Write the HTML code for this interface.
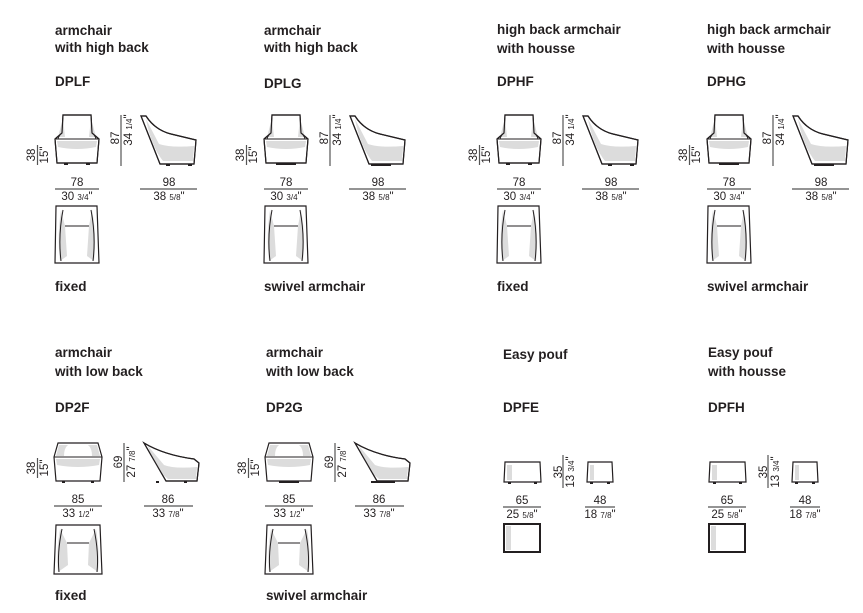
<!DOCTYPE html>
<html><head><meta charset="utf-8"><style>
html,body{margin:0;padding:0;background:#fff}
svg{display:block}
text{font-family:"Liberation Sans",Arial,sans-serif;fill:#231f20}
.t{font-size:13.5px;font-weight:bold}
.d{font-size:11.5px}
.f{font-size:8px}
.s{stroke:#231f20;stroke-width:1.2;fill:#fff}
.g{fill:#dcdcdc;stroke:none}
.l{stroke:#231f20;stroke-width:1;fill:none}
.dl{stroke:#555;stroke-width:1.2}
</style></head><body>
<svg width="863" height="613" viewBox="0 0 863 613" xmlns="http://www.w3.org/2000/svg">
<defs>
<g id="fh">
<path class="s" d="M8,0 H36 L37,18 L44,24 L42,48 H2 L0,24 L7,18 Z"/>
<path class="g" d="M8,3 L3,22 H10 Z M36,3 L41,22 H34 Z M2,26 H42 L41,32 Q22,36 3,32 Z"/>
<path class="l" d="M7,18 Q4,20 3,24 M37,18 Q40,20 41,24 M1,24 H43"/>
<path class="s" d="M8,0 H36 L37,18 L44,24 L42,48 H2 L0,24 L7,18 Z" style="fill:none"/>
</g>
<g id="feet"><rect x="9" y="48" width="4" height="2" fill="#231f20"/><rect x="31" y="48" width="4" height="2" fill="#231f20"/></g>
<g id="base"><rect x="12" y="48" width="20" height="2" fill="#231f20"/></g>
<g id="sh">
<path class="s" d="M0,0 H5 Q14,14 30,18 L55,24 L53,48 H19 Z"/>
<path class="g" d="M5,3 Q10,30 22,45 H52 L53,30 Q30,32 18,28 Z"/>
<path class="s" d="M0,0 H5 Q14,14 30,18 L55,24 L53,48 H19 Z" style="fill:none"/>
</g>
<g id="th">
<path class="s" d="M1,0 H42 L44,57 H0 Z"/>
<path class="g" d="M6,4 Q2,30 5,55 L12,50 L10,20 Z M37,4 Q42,30 39,55 L32,50 L34,20 Z"/>
<path class="l" d="M8,4 Q3,30 6,55 M36,4 Q41,30 38,55 M10,20 H34"/>
</g>
<g id="fl">
<path class="s" d="M4,0 H44 L48,14 L46,38 H2 L0,14 Z"/>
<path class="g" d="M5,2 L2,13 H10 Q10,5 14,2 Z M43,2 L46,13 H38 Q38,5 34,2 Z M2,16 H46 L45,22 Q24,26 3,22 Z"/>
<path class="l" d="M0,14 H48"/>
</g>
<g id="sl">
<path class="s" d="M0,0 Q20,12 50,16 L55,20 L53,38 H22 Z"/>
<path class="g" d="M4,3 Q10,25 24,36 H52 L53,24 Q30,26 20,22 Z"/>
<path class="s" d="M0,0 Q20,12 50,16 L55,20 L53,38 H22 Z" style="fill:none"/>
</g>
<g id="tl">
<path class="s" d="M2,0 H46 L48,49 H0 Z"/>
<path class="g" d="M6,4 Q2,28 4,47 L14,40 L13,18 Z M42,4 Q46,28 44,47 L34,40 L35,18 Z"/>
<path class="l" d="M8,4 Q3,28 5,47 M40,4 Q45,28 43,47 M13,18 H35"/>
</g>
<g id="pf"><path class="s" d="M1,0 H36 L37,20 H0 Z"/><path class="g" d="M3,3 H8 V18 H3 Z"/><rect x="4" y="20" width="3" height="2" fill="#231f20"/><rect x="30" y="20" width="3" height="2" fill="#231f20"/></g>
<g id="ps"><path class="s" d="M1,0 H25 L26,20 H0 Z"/><path class="g" d="M3,3 H7 V18 H3 Z"/><rect x="3" y="20" width="3" height="2" fill="#231f20"/><rect x="20" y="20" width="3" height="2" fill="#231f20"/></g>
<g id="pt"><rect x="1" y="1" width="36" height="28" fill="#fff" stroke="#231f20" stroke-width="2"/><rect x="3" y="3" width="5" height="24" fill="#dcdcdc"/></g>
</defs>

<g>
<text class="t" x="55" y="35">armchair</text>
<text class="t" x="55" y="52">with high back</text>
<text class="t" x="55" y="86">DPLF</text>
<use href="#fh" x="55" y="115"/><use href="#feet" x="55" y="115"/>
<line class="dl" x1="37.5" y1="145" x2="37.5" y2="165"/>
<text class="d" transform="translate(35,155) rotate(-90)" text-anchor="middle">38</text>
<text class="d" transform="translate(48,155) rotate(-90)" text-anchor="middle">15"</text>
<line class="dl" x1="121" y1="115" x2="121" y2="166"/>
<text class="d" transform="translate(119,138) rotate(-90)" text-anchor="middle">87</text>
<text class="d" transform="translate(132,130) rotate(-90)" text-anchor="middle">34 <tspan class="f">1/4</tspan>"</text>
<use href="#sh" x="141" y="116"/><use href="#feet" x="157" y="116"/>
<text class="d" x="77" y="186" text-anchor="middle">78</text>
<line class="dl" x1="55" y1="189" x2="99" y2="189"/>
<text class="d" x="77" y="200" text-anchor="middle">30 <tspan class="f">3/4</tspan>"</text>
<text class="d" x="169" y="186" text-anchor="middle">98</text>
<line class="dl" x1="140" y1="189" x2="197" y2="189"/>
<text class="d" x="169" y="200" text-anchor="middle">38 <tspan class="f">5/8</tspan>"</text>
<use href="#th" x="55" y="206"/>
<text class="t" x="55" y="291">fixed</text>
</g>

<g transform="translate(209,0)">
<text class="t" x="55" y="35">armchair</text>
<text class="t" x="55" y="52">with high back</text>
<text class="t" x="55" y="88">DPLG</text>
<use href="#fh" x="55" y="115"/><use href="#base" x="55" y="115"/>
<line class="dl" x1="37.5" y1="145" x2="37.5" y2="165"/>
<text class="d" transform="translate(35,155) rotate(-90)" text-anchor="middle">38</text>
<text class="d" transform="translate(48,155) rotate(-90)" text-anchor="middle">15"</text>
<line class="dl" x1="121" y1="115" x2="121" y2="166"/>
<text class="d" transform="translate(119,138) rotate(-90)" text-anchor="middle">87</text>
<text class="d" transform="translate(132,130) rotate(-90)" text-anchor="middle">34 <tspan class="f">1/4</tspan>"</text>
<use href="#sh" x="141" y="116"/><use href="#base" x="150" y="116"/>
<text class="d" x="77" y="186" text-anchor="middle">78</text>
<line class="dl" x1="55" y1="189" x2="99" y2="189"/>
<text class="d" x="77" y="200" text-anchor="middle">30 <tspan class="f">3/4</tspan>"</text>
<text class="d" x="169" y="186" text-anchor="middle">98</text>
<line class="dl" x1="140" y1="189" x2="197" y2="189"/>
<text class="d" x="169" y="200" text-anchor="middle">38 <tspan class="f">5/8</tspan>"</text>
<use href="#th" x="55" y="206"/>
<text class="t" x="55" y="291">swivel armchair</text>
</g>

<g transform="translate(442,0)">
<text class="t" x="55" y="34">high back armchair</text>
<text class="t" x="55" y="53">with housse</text>
<text class="t" x="55" y="86">DPHF</text>
<use href="#fh" x="55" y="115"/><use href="#feet" x="55" y="115"/>
<line class="dl" x1="37.5" y1="145" x2="37.5" y2="165"/>
<text class="d" transform="translate(35,155) rotate(-90)" text-anchor="middle">38</text>
<text class="d" transform="translate(48,155) rotate(-90)" text-anchor="middle">15"</text>
<line class="dl" x1="121" y1="115" x2="121" y2="166"/>
<text class="d" transform="translate(119,138) rotate(-90)" text-anchor="middle">87</text>
<text class="d" transform="translate(132,130) rotate(-90)" text-anchor="middle">34 <tspan class="f">1/4</tspan>"</text>
<use href="#sh" x="141" y="116"/><use href="#feet" x="157" y="116"/>
<text class="d" x="77" y="186" text-anchor="middle">78</text>
<line class="dl" x1="55" y1="189" x2="99" y2="189"/>
<text class="d" x="77" y="200" text-anchor="middle">30 <tspan class="f">3/4</tspan>"</text>
<text class="d" x="169" y="186" text-anchor="middle">98</text>
<line class="dl" x1="140" y1="189" x2="197" y2="189"/>
<text class="d" x="169" y="200" text-anchor="middle">38 <tspan class="f">5/8</tspan>"</text>
<use href="#th" x="55" y="206"/>
<text class="t" x="55" y="291">fixed</text>
</g>

<g transform="translate(652,0)">
<text class="t" x="55" y="34">high back armchair</text>
<text class="t" x="55" y="53">with housse</text>
<text class="t" x="55" y="86">DPHG</text>
<use href="#fh" x="55" y="115"/><use href="#base" x="55" y="115"/>
<line class="dl" x1="37.5" y1="145" x2="37.5" y2="165"/>
<text class="d" transform="translate(35,155) rotate(-90)" text-anchor="middle">38</text>
<text class="d" transform="translate(48,155) rotate(-90)" text-anchor="middle">15"</text>
<line class="dl" x1="121" y1="115" x2="121" y2="166"/>
<text class="d" transform="translate(119,138) rotate(-90)" text-anchor="middle">87</text>
<text class="d" transform="translate(132,130) rotate(-90)" text-anchor="middle">34 <tspan class="f">1/4</tspan>"</text>
<use href="#sh" x="141" y="116"/><use href="#base" x="150" y="116"/>
<text class="d" x="77" y="186" text-anchor="middle">78</text>
<line class="dl" x1="55" y1="189" x2="99" y2="189"/>
<text class="d" x="77" y="200" text-anchor="middle">30 <tspan class="f">3/4</tspan>"</text>
<text class="d" x="169" y="186" text-anchor="middle">98</text>
<line class="dl" x1="140" y1="189" x2="197" y2="189"/>
<text class="d" x="169" y="200" text-anchor="middle">38 <tspan class="f">5/8</tspan>"</text>
<use href="#th" x="55" y="206"/>
<text class="t" x="55" y="291">swivel armchair</text>
</g>

<g>
<text class="t" x="55" y="357">armchair</text>
<text class="t" x="55" y="376">with low back</text>
<text class="t" x="55" y="412">DP2F</text>
<use href="#fl" x="54" y="443"/>
<rect x="62" y="481" width="3" height="2" fill="#231f20"/><rect x="91" y="481" width="3" height="2" fill="#231f20"/>
<line class="dl" x1="37.5" y1="458" x2="37.5" y2="478"/>
<text class="d" transform="translate(35,468) rotate(-90)" text-anchor="middle">38</text>
<text class="d" transform="translate(48,468) rotate(-90)" text-anchor="middle">15"</text>
<line class="dl" x1="124" y1="443" x2="124" y2="482"/>
<text class="d" transform="translate(122,462) rotate(-90)" text-anchor="middle">69</text>
<text class="d" transform="translate(135,462) rotate(-90)" text-anchor="middle">27 <tspan class="f">7/8</tspan>"</text>
<use href="#sl" x="144" y="443"/>
<rect x="156" y="481" width="3" height="2" fill="#231f20"/><rect x="184" y="481" width="3" height="2" fill="#231f20"/>
<text class="d" x="78" y="503" text-anchor="middle">85</text>
<line class="dl" x1="54" y1="506" x2="102" y2="506"/>
<text class="d" x="78" y="517" text-anchor="middle">33 <tspan class="f">1/2</tspan>"</text>
<text class="d" x="168" y="503" text-anchor="middle">86</text>
<line class="dl" x1="144" y1="506" x2="193" y2="506"/>
<text class="d" x="168" y="517" text-anchor="middle">33 <tspan class="f">7/8</tspan>"</text>
<use href="#tl" x="54" y="525"/>
<text class="t" x="55" y="600">fixed</text>
</g>

<g transform="translate(211,0)">
<text class="t" x="55" y="357">armchair</text>
<text class="t" x="55" y="376">with low back</text>
<text class="t" x="55" y="412">DP2G</text>
<use href="#fl" x="54" y="443"/>
<rect x="68" y="481" width="20" height="2" fill="#231f20"/>
<line class="dl" x1="37.5" y1="458" x2="37.5" y2="478"/>
<text class="d" transform="translate(35,468) rotate(-90)" text-anchor="middle">38</text>
<text class="d" transform="translate(48,468) rotate(-90)" text-anchor="middle">15"</text>
<line class="dl" x1="124" y1="443" x2="124" y2="482"/>
<text class="d" transform="translate(122,462) rotate(-90)" text-anchor="middle">69</text>
<text class="d" transform="translate(135,462) rotate(-90)" text-anchor="middle">27 <tspan class="f">7/8</tspan>"</text>
<use href="#sl" x="144" y="443"/>
<rect x="160" y="481" width="24" height="2" fill="#231f20"/>
<text class="d" x="78" y="503" text-anchor="middle">85</text>
<line class="dl" x1="54" y1="506" x2="102" y2="506"/>
<text class="d" x="78" y="517" text-anchor="middle">33 <tspan class="f">1/2</tspan>"</text>
<text class="d" x="168" y="503" text-anchor="middle">86</text>
<line class="dl" x1="144" y1="506" x2="193" y2="506"/>
<text class="d" x="168" y="517" text-anchor="middle">33 <tspan class="f">7/8</tspan>"</text>
<use href="#tl" x="54" y="525"/>
<text class="t" x="55" y="600">swivel armchair</text>
</g>

<g>
<text class="t" x="503" y="359">Easy pouf</text>
<text class="t" x="503" y="412">DPFE</text>
<use href="#pf" x="504" y="462"/>
<line class="dl" x1="563" y1="455" x2="563" y2="488"/>
<text class="d" transform="translate(562,472) rotate(-90)" text-anchor="middle">35</text>
<text class="d" transform="translate(574,472) rotate(-90)" text-anchor="middle">13 <tspan class="f">3/4</tspan>"</text>
<use href="#ps" x="587" y="462"/>
<text class="d" x="522" y="504" text-anchor="middle">65</text>
<line class="dl" x1="503" y1="507" x2="541" y2="507"/>
<text class="d" x="522" y="518" text-anchor="middle">25 <tspan class="f">5/8</tspan>"</text>
<text class="d" x="600" y="504" text-anchor="middle">48</text>
<line class="dl" x1="585" y1="507" x2="615" y2="507"/>
<text class="d" x="600" y="518" text-anchor="middle">18 <tspan class="f">7/8</tspan>"</text>
<use href="#pt" x="503" y="523"/>
</g>

<g transform="translate(205,0)">
<text class="t" x="503" y="357">Easy pouf</text>
<text class="t" x="503" y="376">with housse</text>
<text class="t" x="503" y="412">DPFH</text>
<use href="#pf" x="504" y="462"/>
<line class="dl" x1="563" y1="455" x2="563" y2="488"/>
<text class="d" transform="translate(562,472) rotate(-90)" text-anchor="middle">35</text>
<text class="d" transform="translate(574,472) rotate(-90)" text-anchor="middle">13 <tspan class="f">3/4</tspan>"</text>
<use href="#ps" x="587" y="462"/>
<text class="d" x="522" y="504" text-anchor="middle">65</text>
<line class="dl" x1="503" y1="507" x2="541" y2="507"/>
<text class="d" x="522" y="518" text-anchor="middle">25 <tspan class="f">5/8</tspan>"</text>
<text class="d" x="600" y="504" text-anchor="middle">48</text>
<line class="dl" x1="585" y1="507" x2="615" y2="507"/>
<text class="d" x="600" y="518" text-anchor="middle">18 <tspan class="f">7/8</tspan>"</text>
<use href="#pt" x="503" y="523"/>
</g>
</svg>
</body></html>
